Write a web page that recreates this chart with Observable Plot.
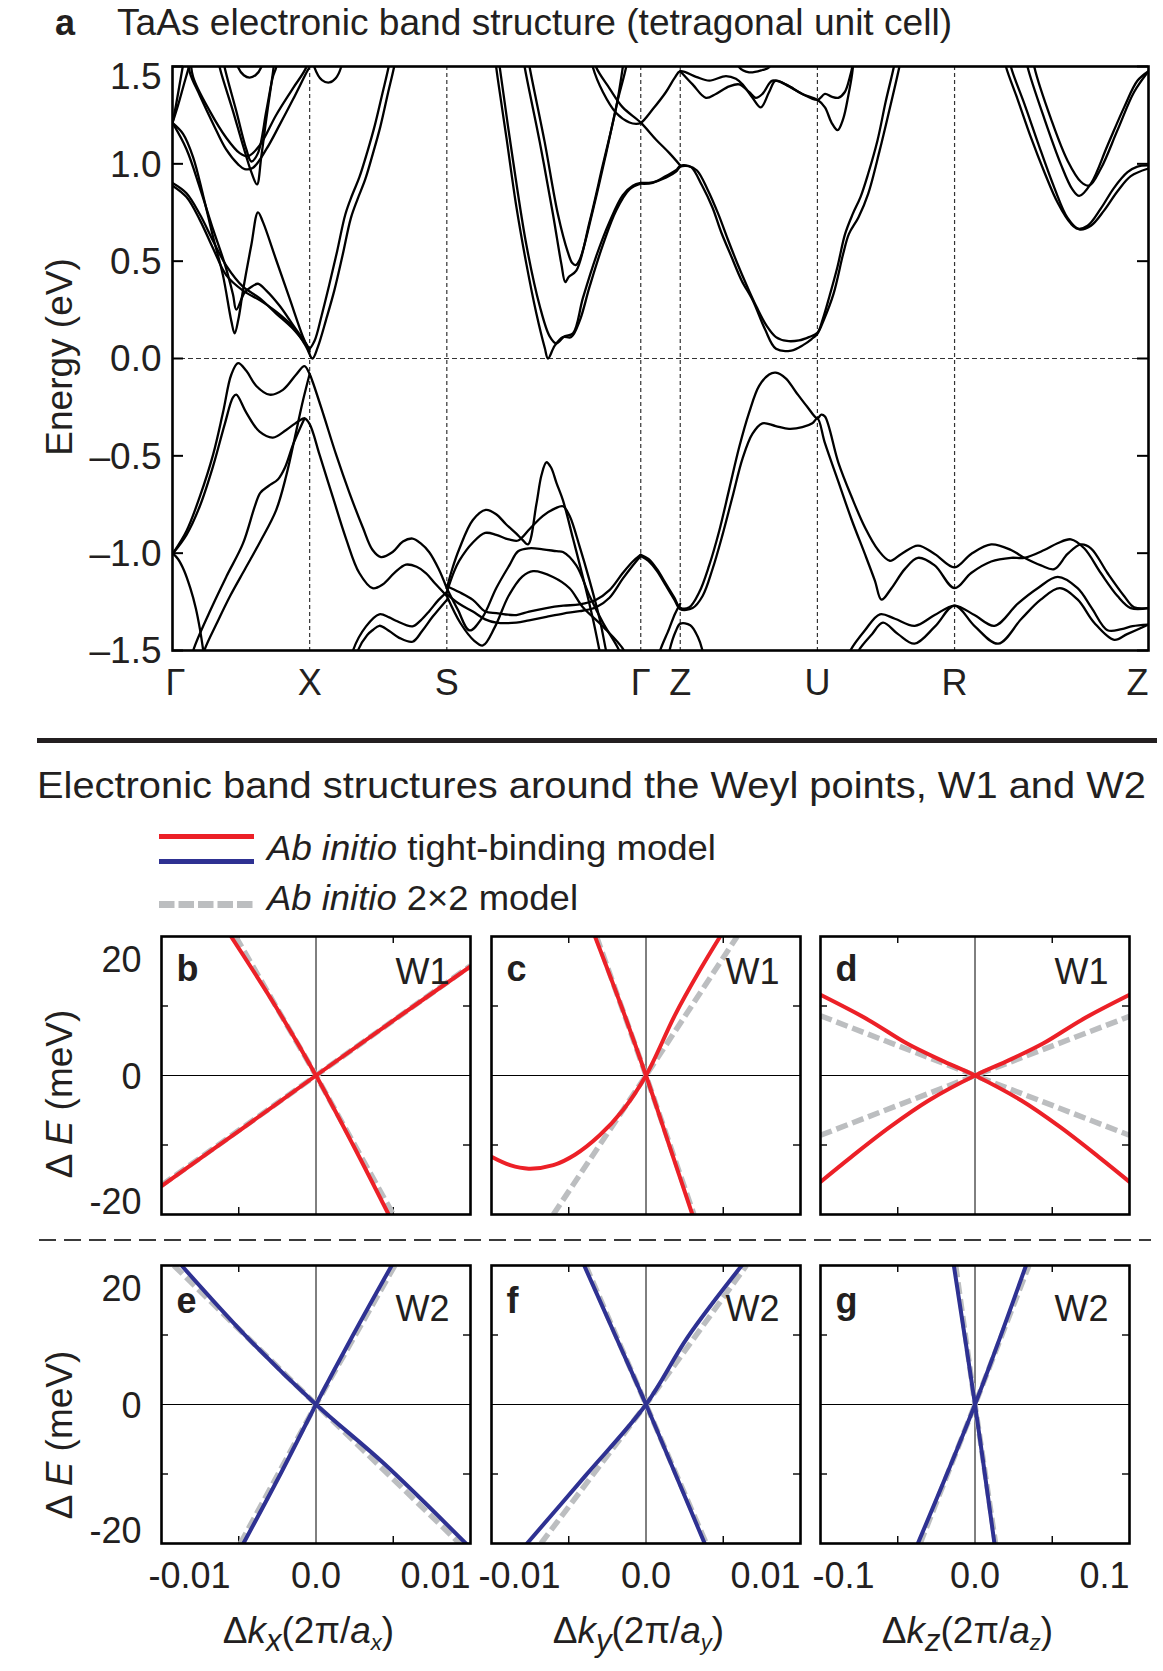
<!DOCTYPE html>
<html><head><meta charset="utf-8">
<script src="https://cdn.jsdelivr.net/npm/d3@7"></script>
<script src="https://cdn.jsdelivr.net/npm/@observablehq/plot@0.6"></script>
<style>
body{margin:0;background:#fff;}
#page{position:relative;width:1163px;height:1671px;background:#fff;overflow:hidden;}
#page svg{position:absolute;}
</style></head><body><div id="page"></div>
<script>
// ---------------- Panel a: symmetry path ----------------
const kPoints = [0, 1, 2, 3.414, 3.702, 4.702, 5.702, 7.116];
const kLabels = ["Γ", "X", "S", "Γ", "Z", "U", "R", "Z"];
const energyTicks = [1.5, 1.0, 0.5, 0, -0.5, -1.0, -1.5];

// conduction bands  [k, E(eV)]
const cGX_up1 = [[0,1.21],[0.04,1.3],[0.08,1.4],[0.12,1.5],[0.14,1.56]];
const cGX_up2 = [[0,1.21],[0.025,1.3],[0.05,1.4],[0.075,1.5],[0.09,1.56]];
const cGX_para1 = [[0.11,1.56],[0.126,1.47],[0.2,1.35],[0.3,1.2],[0.39,1.075],[0.48,0.996],[0.526,0.973],[0.587,0.98],[0.684,1.075],[0.781,1.2],[0.878,1.33],[0.975,1.467],[1.0,1.5],[1.01,1.56]];
const cGX_para2 = [[0.13,1.56],[0.15,1.447],[0.272,1.271],[0.393,1.133],[0.49,1.055],[0.55,1.039],[0.635,1.094],[0.756,1.251],[0.878,1.388],[0.975,1.496],[0.99,1.56]];
const cGX_v1 = [[0.33,1.56],[0.344,1.496],[0.441,1.271],[0.514,1.094],[0.575,0.957],[0.616,0.894],[0.647,1.035],[0.684,1.231],[0.72,1.408],[0.737,1.496],[0.745,1.56]];
const cGX_v2 = [[0.365,1.56],[0.38,1.496],[0.465,1.271],[0.538,1.075],[0.575,1.012],[0.623,1.055],[0.684,1.271],[0.732,1.447],[0.756,1.496],[0.765,1.56]];
const cGX_arc = [[0.46,1.56],[0.478,1.496],[0.52,1.455],[0.562,1.443],[0.605,1.455],[0.647,1.496],[0.66,1.56]];
const cGX_zig = [[0,1.21],[0.078,1.153],[0.15,1.035],[0.223,0.839],[0.296,0.624],[0.368,0.427],[0.429,0.192],[0.453,0.129],[0.48,0.2],[0.514,0.349],[0.575,0.584],[0.623,0.751],[0.659,0.702],[0.756,0.506],[0.853,0.31],[0.95,0.114],[1.0,0.035]];
const cGX_b = [[0,1.21],[0.102,1.075],[0.199,0.878],[0.296,0.663],[0.381,0.486],[0.441,0.329],[0.465,0.251],[0.526,0.339],[0.58,0.37],[0.623,0.384],[0.684,0.349],[0.781,0.271],[0.878,0.173],[0.975,0.075],[1.0,0.045]];
const cGXS_pairA = [[0,0.902],[0.102,0.849],[0.199,0.741],[0.296,0.604],[0.393,0.476],[0.514,0.369],[0.635,0.31],[0.756,0.231],[0.878,0.153],[0.975,0.07],[0.995,0.05],[1.035,0.09],[1.087,0.22],[1.14,0.37],[1.2,0.55],[1.26,0.74],[1.31,0.84],[1.362,0.93],[1.42,1.06],[1.476,1.2],[1.53,1.36],[1.575,1.496],[1.59,1.56]];
const cGXS_pairB = [[0,0.888],[0.102,0.829],[0.199,0.712],[0.296,0.565],[0.393,0.427],[0.514,0.349],[0.635,0.3],[0.756,0.241],[0.878,0.163],[0.975,0.06],[1.02,0.0],[1.06,0.06],[1.12,0.2],[1.18,0.35],[1.24,0.53],[1.3,0.72],[1.35,0.82],[1.405,0.92],[1.46,1.05],[1.515,1.19],[1.57,1.36],[1.615,1.496],[1.63,1.56]];
const cXS_arc = [[1.02,1.56],[1.035,1.496],[1.09,1.43],[1.144,1.418],[1.19,1.44],[1.229,1.496],[1.24,1.56]];
const cSG_o1 = [[2.35,1.56],[2.362,1.486],[2.435,1.133],[2.507,0.78],[2.58,0.486],[2.653,0.231],[2.714,0.055],[2.738,0.0],[2.786,0.065],[2.847,0.11],[2.907,0.11],[2.968,0.192],[3.041,0.369],[3.138,0.584],[3.235,0.761],[3.332,0.869],[3.414,0.898]];
const cSG_o2 = [[2.375,1.56],[2.386,1.496],[2.483,1.016],[2.58,0.584],[2.677,0.271],[2.75,0.114],[2.798,0.078],[2.859,0.114],[2.92,0.129],[2.992,0.31],[3.089,0.525],[3.186,0.702],[3.283,0.839],[3.356,0.888],[3.414,0.902]];
const cSG_i1 = [[2.555,1.56],[2.568,1.496],[2.677,1.114],[2.774,0.741],[2.835,0.486],[2.864,0.392],[2.89,0.42],[2.944,0.451],[3.041,0.702],[3.138,0.996],[3.235,1.29],[3.283,1.496],[3.295,1.56]];
const cSG_i2 = [[2.59,1.56],[2.604,1.496],[2.713,1.114],[2.81,0.741],[2.883,0.545],[2.915,0.49],[2.94,0.48],[2.968,0.506],[3.065,0.761],[3.162,1.055],[3.247,1.329],[3.307,1.496],[3.32,1.56]];
const cGZ_diag = [[3.07,1.56],[3.089,1.496],[3.186,1.388],[3.283,1.29],[3.414,1.212],[3.526,1.124],[3.623,1.055],[3.702,0.992]];
const cGZU_top1 = [[3.05,1.56],[3.065,1.496],[3.138,1.369],[3.235,1.261],[3.332,1.212],[3.38,1.205],[3.414,1.21],[3.501,1.28],[3.598,1.369],[3.66,1.44],[3.702,1.476],[3.817,1.447],[3.914,1.427],[4.035,1.451],[4.108,1.437],[4.156,1.408],[4.229,1.339],[4.29,1.29],[4.35,1.369],[4.398,1.427],[4.495,1.398],[4.592,1.359],[4.702,1.329],[4.757,1.359],[4.805,1.345],[4.854,1.339],[4.902,1.369],[4.939,1.447],[4.956,1.496],[4.965,1.56]];
const cGZU_top2 = [[3.702,1.476],[3.792,1.408],[3.889,1.339],[3.962,1.359],[4.059,1.398],[4.132,1.408],[4.204,1.369],[4.253,1.339],[4.301,1.359],[4.374,1.427],[4.471,1.408],[4.592,1.359],[4.702,1.329],[4.757,1.29],[4.805,1.212],[4.849,1.173],[4.89,1.231],[4.927,1.349],[4.956,1.467],[4.968,1.56]];
const cZU_top3 = [[4.11,1.56],[4.132,1.496],[4.204,1.47],[4.301,1.482],[4.35,1.496],[4.37,1.56]];
const cGZU_1 = [[3.414,0.898],[3.501,0.902],[3.598,0.937],[3.671,0.967],[3.702,0.99],[3.76,0.99],[3.824,0.966],[3.9,0.87],[3.979,0.743],[4.05,0.61],[4.119,0.487],[4.19,0.37],[4.259,0.264],[4.33,0.17],[4.4,0.11],[4.48,0.09],[4.568,0.093],[4.64,0.11],[4.702,0.132],[4.74,0.2],[4.79,0.32],[4.848,0.47],[4.904,0.64],[4.96,0.743],[5.016,0.829],[5.072,0.949],[5.14,1.12],[5.2,1.32],[5.26,1.5],[5.275,1.56]];
const cGZU_2 = [[3.414,0.902],[3.5,0.905],[3.6,0.93],[3.671,0.96],[3.702,0.985],[3.74,0.99],[3.782,0.983],[3.86,0.89],[3.936,0.777],[4.0,0.65],[4.077,0.52],[4.15,0.4],[4.231,0.298],[4.32,0.15],[4.4,0.05],[4.512,0.041],[4.6,0.07],[4.66,0.1],[4.702,0.127],[4.75,0.2],[4.82,0.333],[4.89,0.538],[4.932,0.64],[5.002,0.726],[5.072,0.846],[5.156,1.069],[5.226,1.274],[5.3,1.5],[5.315,1.56]];
const cRZ_1 = [[6.06,1.56],[6.078,1.496],[6.163,1.329],[6.26,1.133],[6.357,0.957],[6.454,0.8],[6.551,0.692],[6.6,0.667],[6.672,0.682],[6.769,0.771],[6.866,0.878],[6.963,0.957],[7.035,0.986],[7.116,0.992]];
const cRZ_2 = [[6.1,1.56],[6.114,1.496],[6.211,1.308],[6.308,1.112],[6.429,0.878],[6.526,0.722],[6.611,0.663],[6.696,0.682],[6.793,0.761],[6.89,0.859],[6.987,0.937],[7.116,0.976]];
const cRZ_3 = [[6.22,1.56],[6.235,1.496],[6.357,1.231],[6.478,0.996],[6.56,0.87],[6.611,0.835],[6.696,0.898],[6.817,1.094],[6.938,1.29],[7.035,1.427],[7.116,1.476]];
const cRZ_4 = [[6.27,1.56],[6.284,1.496],[6.405,1.231],[6.526,1.016],[6.623,0.908],[6.684,0.888],[6.769,0.976],[6.89,1.173],[7.011,1.369],[7.116,1.476]];

// valence bands
const vGXS_1 = [[0,-1.004],[0.102,-0.886],[0.199,-0.71],[0.296,-0.494],[0.368,-0.278],[0.429,-0.082],[0.478,-0.024],[0.538,-0.063],[0.611,-0.141],[0.708,-0.186],[0.805,-0.161],[0.902,-0.082],[0.962,-0.039],[1.0,-0.08],[1.023,-0.122],[1.096,-0.278],[1.193,-0.494],[1.29,-0.69],[1.387,-0.867],[1.459,-0.984],[1.52,-1.02],[1.605,-0.994],[1.68,-0.94],[1.75,-0.925],[1.81,-0.95],[1.872,-0.995],[1.94,-1.08],[2.0,-1.18]];
const vGXS_2 = [[0,-1.004],[0.102,-0.906],[0.199,-0.759],[0.296,-0.553],[0.381,-0.337],[0.441,-0.2],[0.465,-0.186],[0.538,-0.278],[0.635,-0.376],[0.732,-0.406],[0.829,-0.367],[0.926,-0.318],[0.962,-0.308],[1.0,-0.337],[1.072,-0.494],[1.168,-0.71],[1.265,-0.925],[1.362,-1.102],[1.459,-1.18],[1.532,-1.161],[1.62,-1.1],[1.702,-1.059],[1.78,-1.07],[1.847,-1.102],[1.92,-1.16],[2.0,-1.22]];
const vGX_3 = [[0.14,-1.56],[0.15,-1.504],[0.272,-1.3],[0.393,-1.12],[0.514,-0.95],[0.6,-0.76],[0.64,-0.69],[0.7,-0.655],[0.77,-0.62],[0.82,-0.56],[0.88,-0.44],[0.962,-0.308]];
const vGX_4 = [[0.215,-1.56],[0.23,-1.504],[0.33,-1.35],[0.42,-1.22],[0.53,-1.08],[0.64,-0.94],[0.755,-0.78],[0.83,-0.6],[0.9,-0.38],[0.95,-0.22],[1.0,-0.08]];
const vGX_5 = [[0,-1.0],[0.04,-1.03],[0.085,-1.09],[0.13,-1.18],[0.169,-1.28],[0.2,-1.39],[0.224,-1.5],[0.235,-1.56]];
const vXS_b1 = [[1.3,-1.56],[1.314,-1.504],[1.411,-1.376],[1.508,-1.314],[1.58,-1.33],[1.629,-1.347],[1.75,-1.376],[1.81,-1.345],[1.872,-1.298],[1.94,-1.24],[2.0,-1.2]];
const vXS_b2 = [[1.335,-1.56],[1.35,-1.504],[1.42,-1.42],[1.459,-1.396],[1.508,-1.373],[1.58,-1.4],[1.653,-1.435],[1.75,-1.455],[1.82,-1.4],[1.896,-1.327],[2.0,-1.24]];
const vSG_1 = [[2.0,-1.18],[2.04,-1.08],[2.09,-0.98],[2.19,-0.83],[2.284,-0.778],[2.36,-0.8],[2.43,-0.85],[2.507,-0.9],[2.55,-0.93],[2.592,-0.955],[2.653,-0.749],[2.69,-0.6],[2.726,-0.533],[2.76,-0.56],[2.8,-0.64],[2.847,-0.729],[2.92,-0.925],[2.992,-1.122],[3.065,-1.337],[3.114,-1.504],[3.13,-1.56]];
const vSG_2 = [[2.0,-1.2],[2.05,-1.1],[2.09,-1.04],[2.19,-0.945],[2.28,-0.896],[2.36,-0.906],[2.43,-0.925],[2.46,-0.93],[2.52,-0.935],[2.604,-0.876],[2.701,-0.808],[2.79,-0.77],[2.847,-0.759],[2.895,-0.808],[2.968,-0.965],[3.041,-1.141],[3.114,-1.337],[3.162,-1.504],[3.18,-1.56]];
const vSG_3 = [[2.0,-1.18],[2.08,-1.29],[2.166,-1.397],[2.26,-1.33],[2.36,-1.18],[2.458,-1.06],[2.52,-0.99],[2.6,-0.975],[2.7,-0.98],[2.8,-0.99],[2.847,-0.994],[2.944,-1.063],[3.041,-1.22],[3.138,-1.357],[3.259,-1.504],[3.28,-1.56]];
const vSG_4 = [[2.0,-1.22],[2.1,-1.36],[2.2,-1.45],[2.263,-1.474],[2.35,-1.38],[2.45,-1.22],[2.55,-1.12],[2.629,-1.092],[2.774,-1.122],[2.895,-1.18],[2.992,-1.278],[3.138,-1.376],[3.295,-1.504],[3.31,-1.56]];
const vSG_5 = [[2.0,-1.17],[2.09,-1.2],[2.19,-1.24],[2.28,-1.3],[2.362,-1.308],[2.43,-1.315],[2.507,-1.318],[2.6,-1.3],[2.726,-1.282],[2.85,-1.27],[2.968,-1.263],[3.089,-1.239],[3.186,-1.19],[3.283,-1.102],[3.356,-1.043],[3.414,-1.008]];
const vSG_6 = [[2.0,-1.21],[2.09,-1.26],[2.19,-1.3],[2.28,-1.34],[2.362,-1.357],[2.507,-1.357],[2.6,-1.345],[2.726,-1.327],[2.85,-1.31],[2.968,-1.298],[3.089,-1.278],[3.186,-1.229],[3.283,-1.131],[3.356,-1.063],[3.414,-1.014]];
const vGZUR_1 = [[3.414,-1.008],[3.47,-1.03],[3.53,-1.08],[3.6,-1.16],[3.66,-1.23],[3.702,-1.28],[3.768,-1.278],[3.841,-1.2],[3.913,-1.063],[3.986,-0.886],[4.059,-0.671],[4.132,-0.455],[4.204,-0.278],[4.277,-0.141],[4.35,-0.082],[4.398,-0.073],[4.471,-0.102],[4.544,-0.171],[4.629,-0.249],[4.702,-0.308],[4.73,-0.288],[4.757,-0.298],[4.854,-0.533],[4.951,-0.71],[5.048,-0.867],[5.145,-0.984],[5.23,-1.039],[5.314,-1.004],[5.435,-0.961],[5.557,-1.004],[5.702,-1.073],[5.823,-1.004],[5.969,-0.955],[6.114,-0.984],[6.211,-1.024],[6.332,-1.063],[6.429,-1.082],[6.526,-1.004],[6.623,-0.955],[6.696,-0.975],[6.817,-1.102],[6.938,-1.22],[7.011,-1.278],[7.116,-1.282]];
const vGZUR_2 = [[3.414,-1.014],[3.47,-1.04],[3.53,-1.09],[3.6,-1.17],[3.66,-1.24],[3.702,-1.288],[3.792,-1.282],[3.865,-1.22],[3.938,-1.08],[4.01,-0.906],[4.083,-0.71],[4.156,-0.514],[4.229,-0.386],[4.301,-0.333],[4.398,-0.347],[4.495,-0.361],[4.592,-0.353],[4.665,-0.333],[4.702,-0.308],[4.757,-0.435],[4.854,-0.631],[4.951,-0.827],[5.048,-1.004],[5.121,-1.141],[5.169,-1.239],[5.242,-1.18],[5.339,-1.082],[5.435,-1.024],[5.557,-1.063],[5.702,-1.18],[5.823,-1.102],[5.969,-1.043],[6.114,-1.024],[6.211,-1.024],[6.356,-0.984],[6.453,-0.949],[6.55,-0.929],[6.647,-0.975],[6.768,-1.102],[6.89,-1.22],[6.987,-1.282],[7.116,-1.282]];
const vZ_b1 = [[3.54,-1.56],[3.553,-1.505],[3.62,-1.39],[3.664,-1.311],[3.702,-1.26]];
const vZ_b2 = [[3.61,-1.56],[3.622,-1.505],[3.67,-1.4],[3.702,-1.362],[3.775,-1.37],[3.83,-1.43],[3.866,-1.505],[3.88,-1.56]];
const vURZ_b1 = [[4.92,-1.56],[4.94,-1.504],[5.049,-1.396],[5.158,-1.314],[5.267,-1.337],[5.412,-1.373],[5.557,-1.318],[5.702,-1.269],[5.847,-1.318],[5.993,-1.373],[6.163,-1.259],[6.308,-1.18],[6.454,-1.122],[6.599,-1.18],[6.7,-1.28],[6.817,-1.396],[6.92,-1.39],[7.0,-1.375],[7.116,-1.367]];
const vURZ_b2 = [[4.98,-1.56],[5.0,-1.504],[5.1,-1.416],[5.18,-1.357],[5.29,-1.416],[5.41,-1.465],[5.56,-1.376],[5.702,-1.269],[5.85,-1.376],[6.02,-1.465],[6.19,-1.337],[6.33,-1.239],[6.47,-1.18],[6.6,-1.239],[6.72,-1.357],[6.866,-1.445],[6.96,-1.416],[7.116,-1.367]];

const panelABands = [cGX_up1,cGX_up2,cGX_para1,cGX_para2,cGX_v1,cGX_v2,cGX_arc,cGX_zig,cGX_b,cGXS_pairA,cGXS_pairB,cXS_arc,
  cSG_o1,cSG_o2,cSG_i1,cSG_i2,cGZ_diag,cGZU_top1,cGZU_top2,cZU_top3,cGZU_1,cGZU_2,cRZ_1,cRZ_2,cRZ_3,cRZ_4,
  vGXS_1,vGXS_2,vGX_3,vGX_4,vGX_5,vXS_b1,vXS_b2,vSG_1,vSG_2,vSG_3,vSG_4,vSG_5,vSG_6,vGZUR_1,vGZUR_2,vZ_b1,vZ_b2,vURZ_b1,vURZ_b2];

// ---------------- Panels b-g: [Δk, ΔE(meV)] ----------------
const b_tb_a = [[-0.01,-15.9],[-0.005,-8.0],[0,0],[0.005,7.9],[0.01,15.7]];
const b_tb_b = [[-0.0055,20],[-0.0026,9.9],[0,0],[0.0024,-10],[0.0047,-20]];
const b_kp_a = [[-0.01,-15.8],[0,0],[0.01,15.8]];
const b_kp_b = [[-0.0052,20],[0,0],[0.005,-20]];
const c_tb_a = [[-0.0033,20],[-0.0016,10],[0,0],[0.0015,-10],[0.003,-20]];
const c_tb_b = [[-0.01,-11.7],[-0.0088,-12.9],[-0.0076,-13.4],[-0.006,-12.9],[-0.0046,-11.4],[-0.003,-8.6],[-0.0015,-5.0],[0,0],[0.0019,8.8],[0.0035,15.2],[0.0048,20]];
const c_kp_a = [[-0.0032,20],[0,0],[0.0031,-20]];
const c_kp_b = [[-0.006,-20],[0,0],[0.0059,20]];
const d_tb_a = [[-0.1,11.6],[-0.069,8.0],[-0.044,4.6],[-0.02,2.0],[0,0],[0.03,-3.6],[0.055,-7.4],[0.08,-11.7],[0.1,-15.3]];
const d_tb_b = [[-0.1,-15.3],[-0.08,-11.7],[-0.055,-7.4],[-0.03,-3.6],[0,0],[0.02,2.0],[0.044,4.6],[0.069,8.0],[0.1,11.6]];
const d_kp_a = [[-0.1,8.6],[0,0],[0.1,-8.6]];
const d_kp_b = [[-0.1,-8.6],[0,0],[0.1,8.5]];
const e_tb_a = [[-0.0087,20],[-0.0043,9.3],[0,0],[0.0044,-8.5],[0.0097,-20]];
const e_tb_b = [[-0.0047,-20],[-0.0023,-10],[0,0],[0.0024,10],[0.0049,20]];
const e_kp_a = [[-0.0092,20],[0,0],[0.0093,-20]];
const e_kp_b = [[-0.0049,-20],[0,0],[0.0051,20]];
const f_tb_a = [[-0.004,20],[-0.002,10],[0,0],[0.0019,-10],[0.0038,-20]];
const f_tb_b = [[-0.0077,-20],[-0.0039,-10.2],[0,0],[0.0027,9.7],[0.0062,20]];
const f_kp_a = [[-0.0039,20],[0,0],[0.0039,-20]];
const f_kp_b = [[-0.0068,-20],[0,0],[0.0065,20]];
const g_tb_a = [[-0.0137,20],[0,0],[0.0126,-20]];
const g_tb_b = [[-0.037,-20],[0,0],[0.033,20]];
const g_kp_a = [[-0.0125,20],[0,0],[0.0133,-20]];
const g_kp_b = [[-0.0355,-20],[0,0],[0.0349,20]];

const kDomainXY = [-0.01, 0.01];
const kDomainZ = [-0.1, 0.1];
const dETicks = [-10, 10];
const dELabels = ["20", "0", "-20"];
const kxTickLabels = ["-0.01", "0.0", "0.01"];
const kzTickLabels = ["-0.1", "0.0", "0.1"];

// ---------------- drawing ----------------
const FONT = '"Liberation Sans", Arial, Helvetica, sans-serif';
const INK = "#231f20";
const RED = "#ec2027", BLUE = "#2e3192", GRAY = "#bcbec0";
const page = document.getElementById("page");

function place(svg, left, top) {
  svg.style.left = left + "px"; svg.style.top = top + "px";
  page.appendChild(svg);
}

// Panel a
const aFrame = {left: 172, right: 1148, top: 66, bottom: 650};
const aW = aFrame.right - aFrame.left;
const fmtE = d => (d < 0 ? "–" : "") + Math.abs(d).toFixed(1);
const plotA = Plot.plot({
  width: 1163, height: 720,
  marginLeft: aFrame.left, marginRight: 1163 - aFrame.right, marginTop: aFrame.top, marginBottom: 720 - aFrame.bottom,
  x: {domain: [0, kPoints[kPoints.length - 1]], axis: null},
  y: {domain: [-1.5, 1.5], axis: null},
  style: {background: "transparent", fontFamily: FONT, color: INK, overflow: "visible"},
  marks: [
    Plot.ruleY([0], {stroke: "#333", strokeWidth: 1.2, strokeDasharray: "5,3"}),
    Plot.ruleX(kPoints.slice(1, -1), {x: d => d, stroke: "#333", strokeWidth: 1.2, strokeDasharray: "4,3"}),
    ...panelABands.map(b => Plot.line(b, {x: d => d[0], y: d => d[1], curve: "catmull-rom", stroke: "#000", strokeWidth: 2.3, clip: true})),
    Plot.tickY(energyTicks, {y: d => d, insetRight: aW - 11, stroke: "#000", strokeWidth: 2}),
    Plot.tickY(energyTicks, {y: d => d, insetLeft: aW - 11, stroke: "#000", strokeWidth: 2}),
    Plot.text(energyTicks.filter(d => d !== 1.5), {y: d => d, text: fmtE, frameAnchor: "left", textAnchor: "end", dx: -11, dy: 1, fontSize: 37, fill: INK}),
    Plot.text([1.5], {y: d => d, text: fmtE, frameAnchor: "left", textAnchor: "end", dx: -11, dy: 11, fontSize: 37, fill: INK}),
    Plot.text(kLabels.slice(1, -1), {x: (d, i) => kPoints[i + 1], text: d => d, frameAnchor: "bottom", lineAnchor: "middle", dy: 33, fontSize: 36, fill: INK}),
    Plot.text(kLabels.slice(0, 1), {x: () => kPoints[0], text: d => d, frameAnchor: "bottom", lineAnchor: "middle", dy: 33, dx: 3, fontSize: 36, fill: INK}),
    Plot.text(kLabels.slice(-1), {x: () => kPoints[kPoints.length - 1], text: d => d, frameAnchor: "bottom", lineAnchor: "middle", textAnchor: "end", dy: 33, fontSize: 36, fill: INK}),
    Plot.frame({stroke: "#000", strokeWidth: 2.6})
  ]
});
place(plotA, 0, 0);

// small panels
const PW = 309, PH = 278;
function smallPanel({left, top, xDomain, tb, kp, color, letter, tag, yLabels, xLabels, tagDy, letterDy, leftDx}) {
  const ml = 80, mr = 15, mt = 10, mb = 60;
  const xMinor = [xDomain[0] / 2, xDomain[1] / 2];
  const marks = [
    Plot.ruleY([0], {stroke: "#000", strokeWidth: 1}),
    Plot.ruleX([0], {stroke: "#000", strokeWidth: 1}),
    Plot.tickY(dETicks, {y: d => d, insetRight: PW - 7, stroke: "#000", strokeWidth: 1.4}),
    Plot.tickY(dETicks, {y: d => d, insetLeft: PW - 7, stroke: "#000", strokeWidth: 1.4}),
    Plot.tickX(xMinor, {x: d => d, insetBottom: PH - 7, stroke: "#000", strokeWidth: 1.4}),
    Plot.tickX(xMinor, {x: d => d, insetTop: PH - 7, stroke: "#000", strokeWidth: 1.4}),
    ...kp.map(arr => Plot.line(arr, {x: d => d[0], y: d => d[1], stroke: GRAY, strokeWidth: 5.5, strokeDasharray: "12,5", strokeLinecap: "butt", clip: true})),
    ...tb.map(arr => Plot.line(arr, {x: d => d[0], y: d => d[1], curve: "catmull-rom", stroke: color, strokeWidth: 4, clip: true})),
    Plot.text([letter], {frameAnchor: "top-left", textAnchor: "start", lineAnchor: "bottom", dx: 15, dy: letterDy, fontSize: 36, fontWeight: "bold", fill: INK}),
    Plot.text([tag], {frameAnchor: "top-right", textAnchor: "end", lineAnchor: "bottom", dx: -21, dy: tagDy, fontSize: 36, fill: INK}),
    Plot.frame({stroke: "#000", strokeWidth: 2.6})
  ];
  if (yLabels) {
    marks.push(
      Plot.text([20], {y: d => d, text: () => yLabels[0], frameAnchor: "left", textAnchor: "end", dx: -20, dy: 24, fontSize: 36, fill: INK}),
      Plot.text([0], {y: d => d, text: () => yLabels[1], frameAnchor: "left", textAnchor: "end", dx: -20, dy: 2, fontSize: 36, fill: INK}),
      Plot.text([-20], {y: d => d, text: () => yLabels[2], frameAnchor: "left", textAnchor: "end", dx: -20, dy: -12, fontSize: 36, fill: INK})
    );
  }
  if (xLabels) {
    marks.push(
      Plot.text([xDomain[0]], {x: d => d, text: () => xLabels[0], frameAnchor: "bottom", lineAnchor: "middle", textAnchor: "start", dx: leftDx, dy: 33, fontSize: 36, fill: INK}),
      Plot.text([0], {x: d => d, text: () => xLabels[1], frameAnchor: "bottom", lineAnchor: "middle", dy: 33, fontSize: 36, fill: INK}),
      Plot.text([xDomain[1]], {x: d => d, text: () => xLabels[2], frameAnchor: "bottom", lineAnchor: "middle", textAnchor: "end", dy: 33, fontSize: 36, fill: INK})
    );
  }
  const svg = Plot.plot({
    width: PW + ml + mr, height: PH + mt + mb,
    marginLeft: ml, marginRight: mr, marginTop: mt, marginBottom: mb,
    x: {domain: xDomain, axis: null},
    y: {domain: [-20, 20], axis: null},
    style: {background: "transparent", fontFamily: FONT, color: INK, overflow: "visible"},
    marks
  });
  place(svg, left - ml, top - mt);
}

const colLeft = [161, 491, 820];
const rowTop = [936, 1265];
smallPanel({left: colLeft[0], top: rowTop[0], xDomain: kDomainXY, tb: [b_tb_a, b_tb_b], kp: [b_kp_a, b_kp_b], color: RED, letter: "b", tag: "W1", yLabels: dELabels, letterDy: 44, tagDy: 47});
smallPanel({left: colLeft[1], top: rowTop[0], xDomain: kDomainXY, tb: [c_tb_a, c_tb_b], kp: [c_kp_a, c_kp_b], color: RED, letter: "c", tag: "W1", letterDy: 44, tagDy: 47});
smallPanel({left: colLeft[2], top: rowTop[0], xDomain: kDomainZ, tb: [d_tb_a, d_tb_b], kp: [d_kp_a, d_kp_b], color: RED, letter: "d", tag: "W1", letterDy: 44, tagDy: 47});
smallPanel({left: colLeft[0], top: rowTop[1], xDomain: kDomainXY, tb: [e_tb_a, e_tb_b], kp: [e_kp_a, e_kp_b], color: BLUE, letter: "e", tag: "W2", yLabels: dELabels, xLabels: kxTickLabels, leftDx: -13, letterDy: 47, tagDy: 55});
smallPanel({left: colLeft[1], top: rowTop[1], xDomain: kDomainXY, tb: [f_tb_a, f_tb_b], kp: [f_kp_a, f_kp_b], color: BLUE, letter: "f", tag: "W2", xLabels: kxTickLabels, leftDx: -13, letterDy: 47, tagDy: 55});
smallPanel({left: colLeft[2], top: rowTop[1], xDomain: kDomainZ, tb: [g_tb_a, g_tb_b], kp: [g_kp_a, g_kp_b], color: BLUE, letter: "g", tag: "W2", xLabels: kzTickLabels, leftDx: -8, letterDy: 47, tagDy: 55});

// ---------------- titles, legend, separators ----------------
const ov = d3.select(page).append("svg").attr("width", 1163).attr("height", 1671)
  .style("left", "0px").style("top", "0px").style("font-family", FONT).attr("fill", INK);
ov.append("text").attr("x", 55).attr("y", 35).attr("font-size", 36).attr("font-weight", "bold").text("a");
ov.append("text").attr("x", 117).attr("y", 35).attr("font-size", 37).attr("textLength", 835).attr("lengthAdjust", "spacingAndGlyphs")
  .text("TaAs electronic band structure (tetragonal unit cell)");
ov.append("g").attr("transform", "translate(72,357) rotate(-90)").append("text").attr("text-anchor", "middle").attr("font-size", 37).text("Energy (eV)");
ov.append("rect").attr("x", 37).attr("y", 738).attr("width", 1120).attr("height", 5).attr("fill", INK);
ov.append("text").attr("x", 37).attr("y", 798).attr("font-size", 37).attr("textLength", 1109).attr("lengthAdjust", "spacingAndGlyphs")
  .text("Electronic band structures around the Weyl points, W1 and W2");
// legend
ov.append("line").attr("x1", 159).attr("x2", 254).attr("y1", 836.5).attr("y2", 836.5).attr("stroke", RED).attr("stroke-width", 5);
ov.append("line").attr("x1", 159).attr("x2", 254).attr("y1", 861.5).attr("y2", 861.5).attr("stroke", BLUE).attr("stroke-width", 5);
ov.append("line").attr("x1", 159).attr("x2", 254).attr("y1", 904.5).attr("y2", 904.5).attr("stroke", GRAY).attr("stroke-width", 7).attr("stroke-dasharray", "15.5,4");
const l1 = ov.append("text").attr("x", 267).attr("y", 860).attr("font-size", 35).attr("textLength", 449).attr("lengthAdjust", "spacingAndGlyphs");
l1.append("tspan").attr("font-style", "italic").text("Ab initio");
l1.append("tspan").text(" tight-binding model");
const l2 = ov.append("text").attr("x", 267).attr("y", 910).attr("font-size", 35).attr("textLength", 311).attr("lengthAdjust", "spacingAndGlyphs");
l2.append("tspan").attr("font-style", "italic").text("Ab initio");
l2.append("tspan").text(" 2×2 model");
// dashed separator
ov.append("line").attr("x1", 39).attr("x2", 1151).attr("y1", 1240).attr("y2", 1240).attr("stroke", "#3a3a3a").attr("stroke-width", 2).attr("stroke-dasharray", "17,8");
// y titles of small panels
[1094, 1435].forEach(cy => {
  const t = ov.append("g").attr("transform", `translate(72,${cy}) rotate(-90)`).append("text").attr("text-anchor", "middle").attr("font-size", 37);
  t.append("tspan").text("Δ ");
  t.append("tspan").attr("font-style", "italic").text("E");
  t.append("tspan").text(" (meV)");
});
// x titles
const kSubs = ["x", "y", "z"];
colLeft.forEach((lx, i) => {
  const t = ov.append("text").attr("x", lx + PW / 2 - 7).attr("y", 1643).attr("text-anchor", "middle").attr("font-size", 37);
  t.append("tspan").text("Δ");
  t.append("tspan").attr("font-style", "italic").text("k");
  t.append("tspan").attr("font-style", "italic").attr("font-size", 31).attr("dy", 8).text(kSubs[i]);
  t.append("tspan").attr("dy", -8).text("(2π/");
  t.append("tspan").attr("font-style", "italic").text("a");
  t.append("tspan").attr("font-style", "italic").attr("font-size", 22).attr("dy", 7).text(kSubs[i]);
  t.append("tspan").attr("dy", -7).text(")");
});
</script></body></html>
